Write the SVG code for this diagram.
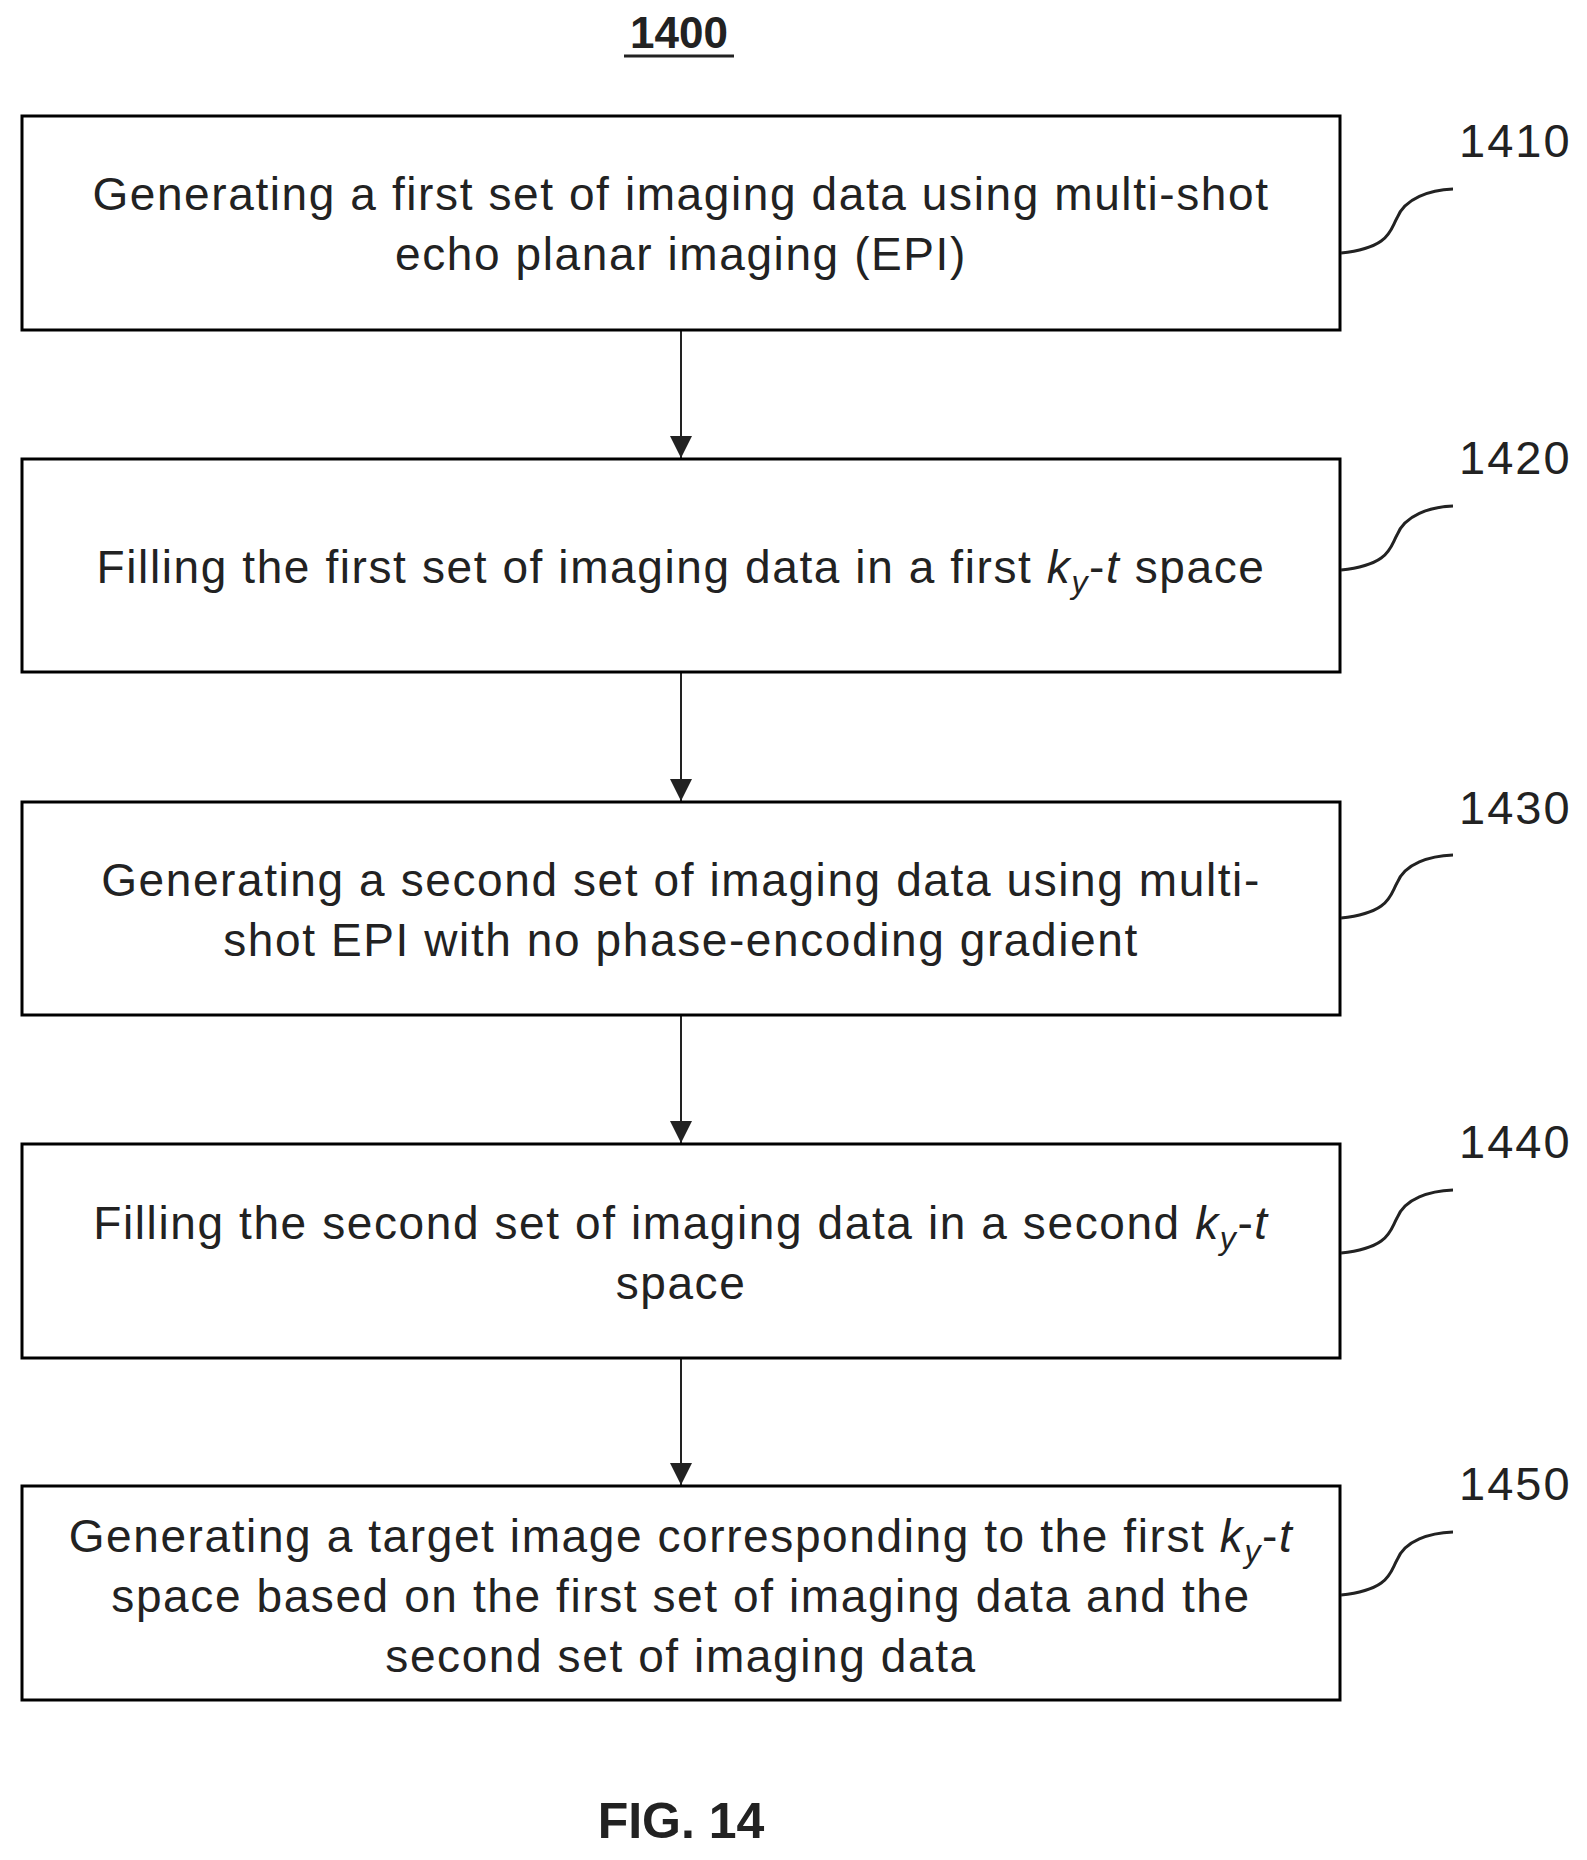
<svg xmlns="http://www.w3.org/2000/svg" width="1587" height="1860" viewBox="0 0 1587 1860">
<defs>
<style>
.box{fill:#fff;stroke:#000;stroke-width:3}
.t{font-family:"Liberation Sans",Arial,sans-serif;font-size:46px;letter-spacing:1.6px;fill:#222;text-anchor:middle}
.lb{font-family:"Liberation Sans",Arial,sans-serif;font-size:47px;letter-spacing:2px;fill:#222}
.ld{fill:none;stroke:#222;stroke-width:3}
.c{stroke:#222;stroke-width:2}
.i{font-style:italic}
.s{font-size:32px;font-style:italic}
</style>
<marker id="ah" viewBox="0 0 20 20" refX="20" refY="10" markerWidth="22" markerHeight="22" orient="auto" markerUnits="userSpaceOnUse"><path d="M0,0L20,10L0,20z" fill="#222"/></marker>
</defs>
<rect width="1587" height="1860" fill="#fff"/>
<text x="679" y="48" font-family="Liberation Sans,Arial,sans-serif" font-size="44" font-weight="bold" fill="#222" text-anchor="middle">1400</text>
<line x1="624" y1="56" x2="734" y2="56" stroke="#222" stroke-width="3"/>
<g id="connectors">
<line class="c" x1="681" y1="331" x2="681" y2="458" marker-end="url(#ah)"/>
<line class="c" x1="681" y1="673" x2="681" y2="801" marker-end="url(#ah)"/>
<line class="c" x1="681" y1="1016" x2="681" y2="1143" marker-end="url(#ah)"/>
<line class="c" x1="681" y1="1359" x2="681" y2="1485" marker-end="url(#ah)"/>
</g>
<g id="n1410">
<rect class="box" x="22" y="116" width="1318" height="214"/>
<text class="t" x="681" y="210">Generating a first set of imaging data using multi-shot</text>
<text class="t" x="681" y="270">echo planar imaging (EPI)</text>
<path class="ld" d="M1341,253 C1390,248 1390,230 1397,218 C1405,198 1430,190 1453,189"/>
<text class="lb" x="1459" y="157">1410</text>
</g>
<g id="n1420">
<rect class="box" x="22" y="459" width="1318" height="213"/>
<text class="t" x="681" y="583">Filling the first set of imaging data in a first <tspan class="i">k</tspan><tspan class="s" dy="10">y</tspan><tspan dy="-10">-</tspan><tspan class="i">t</tspan> space</text>
<path class="ld" d="M1341,570 C1390,565 1390,547 1397,535 C1405,515 1430,507 1453,506"/>
<text class="lb" x="1459" y="474">1420</text>
</g>
<g id="n1430">
<rect class="box" x="22" y="802" width="1318" height="213"/>
<text class="t" x="681" y="896">Generating a second set of imaging data using multi-</text>
<text class="t" x="681" y="956">shot EPI with no phase-encoding gradient</text>
<path class="ld" d="M1341,918 C1390,913 1390,895 1397,883 C1405,863 1430,856 1453,855"/>
<text class="lb" x="1459" y="824">1430</text>
</g>
<g id="n1440">
<rect class="box" x="22" y="1144" width="1318" height="214"/>
<text class="t" x="681" y="1239">Filling the second set of imaging data in a second <tspan class="i">k</tspan><tspan class="s" dy="10">y</tspan><tspan dy="-10">-</tspan><tspan class="i">t</tspan></text>
<text class="t" x="681" y="1299">space</text>
<path class="ld" d="M1341,1253 C1390,1248 1390,1230 1397,1218 C1405,1198 1430,1191 1453,1190"/>
<text class="lb" x="1459" y="1158">1440</text>
</g>
<g id="n1450">
<rect class="box" x="22" y="1486" width="1318" height="214"/>
<text class="t" x="681" y="1552">Generating a target image corresponding to the first <tspan class="i">k</tspan><tspan class="s" dy="10">y</tspan><tspan dy="-10">-</tspan><tspan class="i">t</tspan></text>
<text class="t" x="681" y="1612">space based on the first set of imaging data and the</text>
<text class="t" x="681" y="1672">second set of imaging data</text>
<path class="ld" d="M1341,1595 C1390,1590 1390,1572 1397,1560 C1405,1540 1430,1533 1453,1532"/>
<text class="lb" x="1459" y="1500">1450</text>
</g>
<text x="681" y="1838" font-family="Liberation Sans,Arial,sans-serif" font-size="50" font-weight="bold" fill="#222" text-anchor="middle">FIG. 14</text>
</svg>
